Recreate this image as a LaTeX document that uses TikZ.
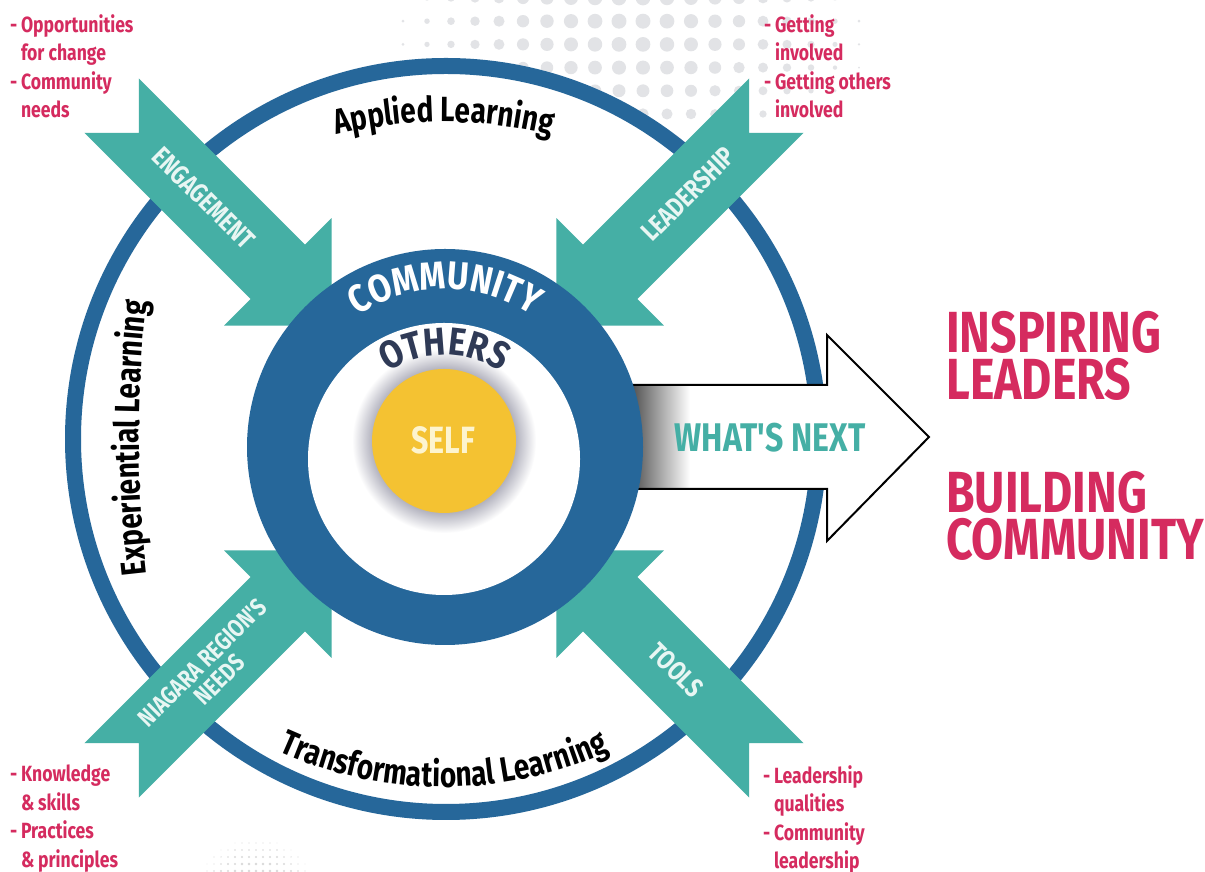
\documentclass[tikz,border=0pt]{standalone}
\usepackage{fontspec}
\setmainfont{Fira Sans}
\newfontfamily\narrowfont{Fira Sans}[FakeStretch=0.8]
\newfontfamily\ringnarrow{Fira Sans}[FakeStretch=0.85]
\usetikzlibrary{decorations.text}
\definecolor{ringblue}{HTML}{26679A}
\definecolor{ribbon}{HTML}{45AFA5}
\definecolor{ribbontext}{HTML}{E8F6F3}
\definecolor{selfgold}{HTML}{F4C232}
\definecolor{selfcream}{HTML}{FDF4CF}
\definecolor{othersnavy}{HTML}{2F3A56}
\definecolor{accent}{HTML}{D52B5F}
\definecolor{halo}{HTML}{B2B2BE}
\definecolor{dotgray}{HTML}{E2E3E6}

% soft halo round the yellow disc
\pgfdeclareradialshading{selfhalo}{\pgfpoint{0bp}{0bp}}{color(0bp)=(halo); color(19.5bp)=(halo); color(25bp)=(white); color(50bp)=(white)}

\newcommand{\arcfont}{\narrowfont\bfseries\fontsize{35}{35}\selectfont}
\newcommand{\ringfont}{\ringnarrow\bfseries\fontsize{39}{39}\selectfont}

\begin{document}
\begin{tikzpicture}[x=1pt,y=1pt,
  ribbonlabel/.style={text=ribbontext,font=\narrowfont\bfseries\fontsize{27}{26}\selectfont,inner sep=0pt,align=center},
  bullets/.style={text=accent,font=\narrowfont\bfseries\fontsize{22}{28.5}\selectfont,align=left,inner sep=0pt,anchor=north west},
  headline/.style={text=accent,font=\narrowfont\bfseries\fontsize{58}{47}\selectfont,align=left,inner sep=0pt,anchor=north west}]

\fill[white] (0,0) rectangle (1205,872);
\useasboundingbox (0,0) rectangle (1205,872);

% ================= halftone dots =================
\foreach \col in {0,...,19}
  \foreach \row in {0,...,5} {
    \pgfmathsetmacro\dx{403+24*\col}
    \pgfmathsetmacro\dy{-2+23.2*\row}
    \pgfmathsetmacro\py{872-\dy}
    \pgfmathsetmacro\dr{7.5*(1-((\dx-630)/255)^2-((\dy-20)/190)^2)}
    \ifdim\dr pt>0.6pt \fill[dotgray] (\dx,\py) circle (\dr); \fi
  }
\foreach \col in {0,...,16}
  \foreach \row in {0,...,5} {
    \pgfmathsetmacro\dx{200+7*\col}
    \pgfmathsetmacro\dy{836+7*\row}
    \pgfmathsetmacro\py{872-\dy}
    \pgfmathsetmacro\dr{1.5*(1-((\dx-256)/62)^2-((\dy-875)/42)^2)}
    \ifdim\dr pt>0.4pt \fill[black!15] (\dx,\py) circle (\dr); \fi
  }

% ================= outer ring and its three labels =================
\fill[white] (446,433) circle (381);
\draw[ringblue,line width=16pt] (446,433) circle (373);
\path[shift={(444,300)},decorate,decoration={text along path,text align=center,
  text={|\arcfont|Applied Learning}}] (108:450) arc[start angle=108,end angle=72,radius=450];
\path[shift={(1339,434)},decorate,decoration={text along path,text align=center,
  text={|\arcfont|Experiential Learning}}] (188:1200) arc[start angle=188,end angle=172,radius=1200];
\path[shift={(444,485)},decorate,decoration={text along path,text align=center,
  text={|\arcfont|Transformational Learning}}] (237:400) arc[start angle=237,end angle=303,radius=400];

% ================= what's next arrow =================
\fill[white] (600,487) -- (827,487) -- (827,537) -- (929,435) -- (827,331) -- (827,383) -- (600,383) -- cycle;
\shade[left color=black!70,right color=white] (630,384) rectangle (690,486);
\draw[black,line width=2pt,line join=miter] (600,487) -- (827,487) -- (827,537) -- (929,435) -- (827,331) -- (827,383) -- (600,383);
\node[text=ribbon,font=\narrowfont\bfseries\fontsize{40}{40}\selectfont,inner sep=0pt] (next) at (770,434) {WHAT'S NEXT};

% ================= four ribbons pointing in =================
\foreach \ang in {45,135,225,315}
  \fill[ribbon,shift={(444,434)},rotate=\ang]
    (470,38.5) -- (431.5,0) -- (470,-38.5) -- (235,-38.5) -- (235,-76)
    -- (159,0) -- (235,76) -- (235,38.5) -- cycle;
\node[ribbonlabel,rotate=-45] (engage) at (204,674) {ENGAGEMENT};
\node[ribbonlabel,rotate=45] (lead) at (688,678) {LEADERSHIP};
\node[ribbonlabel,rotate=45,font=\narrowfont\bfseries\fontsize{25}{24}\selectfont] (niagara) at (211,201) {NIAGARA REGION'S\\NEEDS};
\node[ribbonlabel,rotate=-45] (tools) at (676,202) {TOOLS};

% ================= community / others / self =================
\fill[ringblue] (445,425) circle (198);
\fill[white] (444,413) circle (136);
\shade[shading=selfhalo] (444,431) circle (92);
\fill[selfgold] (444,431) circle (72);
\node[text=selfcream,font=\narrowfont\bfseries\fontsize{38}{38}\selectfont,inner sep=0pt] (self) at (443,432) {SELF};
\path[shift={(445,425)},decorate,decoration={text along path,text align=center,text color=white,
  text={|\ringfont|COMMUNITY}}] (150:158) arc[start angle=150,end angle=30,radius=158];
\path[shift={(444,413)},decorate,decoration={text along path,text align=center,text color=othersnavy,
  text={|\ringfont|OTHERS}}] (150:104) arc[start angle=150,end angle=30,radius=104];

% ================= notes in the corners =================
\node[bullets] (opps) at (10,858) {-\,Opportunities\\\phantom{-\,}for change\\-\,Community\\\phantom{-\,}needs};
\node[bullets] (involve) at (764,858) {-\,Getting\\\phantom{-\,}involved\\-\,Getting others\\\phantom{-\,}involved};
\node[bullets] (skills) at (10,107) {-\,Knowledge\\\phantom{-\,}\&\,skills\\-\,Practices\\\phantom{-\,}\&\,principles};
\node[bullets] (quals) at (763,107) {-\,Leadership\\\phantom{-\,}qualities\\-\,Community\\\phantom{-\,}leadership};

% ================= outcomes =================
\node[headline] (inspire) at (946,561) {INSPIRING\\LEADERS};
\node[headline] (build) at (946,401) {BUILDING\\COMMUNITY};
\end{tikzpicture}
\end{document}
